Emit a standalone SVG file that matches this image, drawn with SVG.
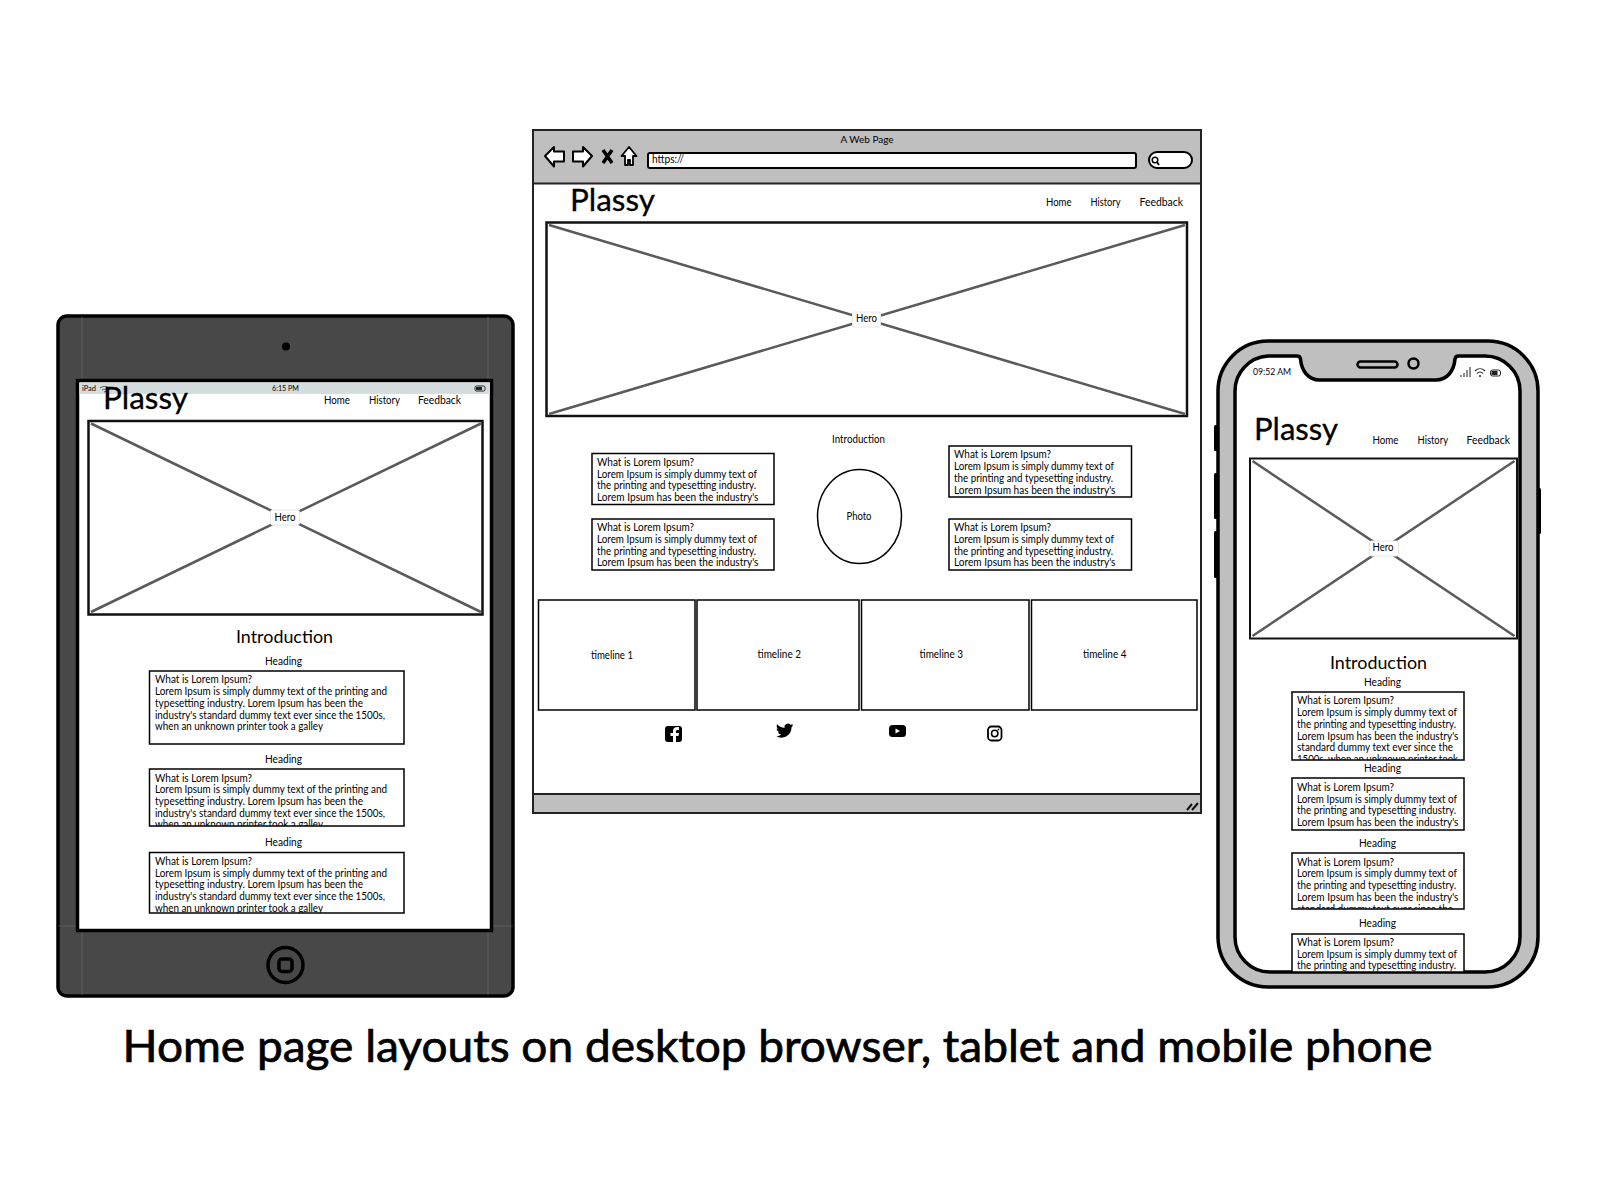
<svg xmlns="http://www.w3.org/2000/svg" width="1600" height="1200" viewBox="0 0 1600 1200">
<style>
text{font-family:"Lato","Open Sans","DejaVu Sans",sans-serif;fill:#000}
.b{fill:#fff;stroke:#000;stroke-width:2}
.h{fill:#fff;stroke:#111;stroke-width:2.5}
.x{stroke:#5a5a5a;stroke-width:2.5;fill:none}
.l{fill:#fff;stroke:#e8e8e8;stroke-width:1}
.t{font-size:11px}
.n{font-size:11.5px}
.p{font-size:30px;stroke:#000;stroke-width:.3}
.i{font-size:18px}
.seam{stroke:#8a8a8a;stroke-width:.6;opacity:.6}
</style>
<defs>
<clipPath id="c1"><rect x="149" y="769" width="255" height="57"/></clipPath>
<clipPath id="c2"><rect x="149" y="852" width="255" height="61"/></clipPath>
<clipPath id="c3"><rect x="1292" y="692" width="172" height="68"/></clipPath>
<clipPath id="c4"><rect x="1292" y="853" width="172" height="56"/></clipPath>
<clipPath id="c5"><rect x="1292" y="934" width="172" height="38"/></clipPath>
</defs>
<rect width="1600" height="1200" fill="#fff"/>

<g id="desktop-browser">
<rect x="533" y="130" width="668" height="683" fill="#fff" stroke="#222" stroke-width="2"/>
<rect x="533" y="130" width="668" height="53.500" fill="#bfbfbf" stroke="#222" stroke-width="2"/>
<rect x="533" y="794" width="668" height="19" fill="#bfbfbf" stroke="#222" stroke-width="2"/>
<path d="M1187 810l5-6M1192 810l6-7" stroke="#111" stroke-width="2" fill="none"/>
<text x="867" y="143" class="t" font-size="10" text-anchor="middle" textLength="53" lengthAdjust="spacingAndGlyphs" style="font-size:10px">A Web Page</text>
<path d="M545 156l9-9v4.500h10v10h-10v5z" fill="#fff" stroke="#000" stroke-width="2" stroke-linejoin="round"/>
<path d="M592 156l-9-9v4.500h-10v10h10v5z" fill="#fff" stroke="#000" stroke-width="2" stroke-linejoin="round"/>
<path d="M603 150l9 13M612 150l-9 13" stroke="#000" stroke-width="3.500" fill="none"/>
<path d="M629 147l-7.500 9h3.500v9h3v-5h2v5h3v-9h3.500z" fill="#fff" stroke="#000" stroke-width="1.800" stroke-linejoin="round"/>
<rect x="648" y="153" width="488" height="15" rx="2" fill="#fff" stroke="#000" stroke-width="2"/>
<text x="652" y="163" class="t" textLength="32" lengthAdjust="spacingAndGlyphs" style="font-size:10.500px">https://</text>
<rect x="1149" y="152" width="43" height="16" rx="8" fill="#fff" stroke="#000" stroke-width="2"/>
<circle cx="1155" cy="160" r="2.800" fill="none" stroke="#000" stroke-width="1.500"/><path d="M1157 162l2 3" stroke="#000" stroke-width="1.800"/>
</g>

<g id="desktop-header">
<text x="570" y="211" class="p" textLength="85" lengthAdjust="spacingAndGlyphs">Plassy</text>
<text x="1046" y="206" class="n" textLength="25.500" lengthAdjust="spacingAndGlyphs">Home</text>
<text x="1090.500" y="206" class="n" textLength="30" lengthAdjust="spacingAndGlyphs">History</text>
<text x="1139.500" y="206" class="n" textLength="43.500" lengthAdjust="spacingAndGlyphs">Feedback</text>
</g>

<g id="desktop-hero">
<rect x="546.500" y="222.500" width="640.500" height="193.500" class="h"/>
<path d="M549 225L1185 414M1185 225L549 414" class="x"/>
<rect x="852.500" y="312" width="28" height="15" rx="2" class="l"/>
<text x="866.500" y="322" class="t" text-anchor="middle" textLength="21" lengthAdjust="spacingAndGlyphs">Hero</text>
</g>

<g id="desktop-intro">
<text x="832" y="443" class="t" textLength="53" lengthAdjust="spacingAndGlyphs" style="font-size:10.500px">Introduction</text>
<ellipse cx="859.500" cy="516.500" rx="42" ry="47" fill="#fff" stroke="#000" stroke-width="1.500"/>
<text x="859" y="519.500" class="t" text-anchor="middle" textLength="25" lengthAdjust="spacingAndGlyphs" style="font-size:10.500px">Photo</text>
</g>

<g id="desktop-card-1">
<rect x="592" y="453.500" width="182" height="51" class="b" style="stroke-width:1.500"/>
<text x="597" y="466" class="t" textLength="97" lengthAdjust="spacingAndGlyphs">What is Lorem Ipsum?</text>
<text x="597" y="478" class="t" textLength="160" lengthAdjust="spacingAndGlyphs">Lorem Ipsum is simply dummy text of</text>
<text x="597" y="489" class="t" textLength="159" lengthAdjust="spacingAndGlyphs">the printing and typesetting industry.</text>
<text x="597" y="501" class="t" textLength="161.500" lengthAdjust="spacingAndGlyphs">Lorem Ipsum has been the industry's</text>
</g>
<g id="desktop-card-2">
<rect x="592" y="519" width="182" height="51" class="b" style="stroke-width:1.500"/>
<text x="597" y="531" class="t" textLength="97" lengthAdjust="spacingAndGlyphs">What is Lorem Ipsum?</text>
<text x="597" y="543" class="t" textLength="160" lengthAdjust="spacingAndGlyphs">Lorem Ipsum is simply dummy text of</text>
<text x="597" y="555" class="t" textLength="159" lengthAdjust="spacingAndGlyphs">the printing and typesetting industry.</text>
<text x="597" y="566" class="t" textLength="161.500" lengthAdjust="spacingAndGlyphs">Lorem Ipsum has been the industry's</text>
</g>
<g id="desktop-card-3">
<rect x="949" y="446" width="182.500" height="51" class="b" style="stroke-width:1.500"/>
<text x="954" y="458" class="t" textLength="97" lengthAdjust="spacingAndGlyphs">What is Lorem Ipsum?</text>
<text x="954" y="470" class="t" textLength="160" lengthAdjust="spacingAndGlyphs">Lorem Ipsum is simply dummy text of</text>
<text x="954" y="482" class="t" textLength="159" lengthAdjust="spacingAndGlyphs">the printing and typesetting industry.</text>
<text x="954" y="494" class="t" textLength="161.500" lengthAdjust="spacingAndGlyphs">Lorem Ipsum has been the industry's</text>
</g>
<g id="desktop-card-4">
<rect x="949" y="519" width="182.500" height="51" class="b" style="stroke-width:1.500"/>
<text x="954" y="531" class="t" textLength="97" lengthAdjust="spacingAndGlyphs">What is Lorem Ipsum?</text>
<text x="954" y="543" class="t" textLength="160" lengthAdjust="spacingAndGlyphs">Lorem Ipsum is simply dummy text of</text>
<text x="954" y="555" class="t" textLength="159" lengthAdjust="spacingAndGlyphs">the printing and typesetting industry.</text>
<text x="954" y="566" class="t" textLength="161.500" lengthAdjust="spacingAndGlyphs">Lorem Ipsum has been the industry's</text>
</g>

<g id="timeline-1"><rect x="538.500" y="600" width="156.500" height="110" fill="#fff" stroke="#000" stroke-width="1.500"/><text x="591" y="659" class="t" textLength="42" lengthAdjust="spacingAndGlyphs">timeline 1</text></g>
<g id="timeline-2"><rect x="697" y="600" width="162" height="110" fill="#fff" stroke="#000" stroke-width="1.500"/><text x="757.500" y="658" class="t" textLength="43.500" lengthAdjust="spacingAndGlyphs">timeline 2</text></g>
<g id="timeline-3"><rect x="861.500" y="600" width="167.500" height="110" fill="#fff" stroke="#000" stroke-width="1.500"/><text x="919.500" y="658" class="t" textLength="43.500" lengthAdjust="spacingAndGlyphs">timeline 3</text></g>
<g id="timeline-4"><rect x="1031.500" y="600" width="165.500" height="110" fill="#fff" stroke="#000" stroke-width="1.500"/><text x="1083" y="658" class="t" textLength="43.500" lengthAdjust="spacingAndGlyphs">timeline 4</text></g>

<g id="social-icons" transform="translate(0 -4)">
<path fill-rule="evenodd" d="M668 730h11a3 3 0 0 1 3 3v10a3 3 0 0 1-3 3h-3v-6h2.500l.5-3h-3v-1.500c0-1 .5-1.500 1.500-1.500h1.500v-2.800c-3.500-.5-6 .5-6 3.800v2h-2.500v3h2.500v6h-5a3 3 0 0 1-3-3v-10a3 3 0 0 1 3-3z"/>
<path transform="translate(776 726) scale(.72)" d="M23.950 4.570a10 10 0 0 1-2.820.770 4.960 4.960 0 0 0 2.160-2.720c-.950.550-2 .950-3.120 1.180a4.920 4.920 0 0 0-8.380 4.480C7.690 8.090 4.070 6.130 1.640 3.160a4.820 4.820 0 0 0-.670 2.480c0 1.710.870 3.220 2.190 4.100a4.900 4.900 0 0 1-2.230-.620v.060a4.920 4.920 0 0 0 3.950 4.830 4.900 4.900 0 0 1-2.210.080 4.940 4.940 0 0 0 4.600 3.420A9.870 9.870 0 0 1 0 19.540a13.940 13.940 0 0 0 7.550 2.210c9.050 0 14-7.500 14-13.980 0-.210 0-.420-.010-.630a10 10 0 0 0 2.460-2.550z"/>
<rect x="889" y="729" width="17" height="12" rx="3.500"/><path d="M895.500 732.500v5l4.500-2.500z" fill="#fff"/>
<rect x="988" y="730.500" width="13.500" height="14" rx="3.500" fill="none" stroke="#000" stroke-width="1.800"/><circle cx="994.700" cy="737.500" r="3.200" fill="none" stroke="#000" stroke-width="1.500"/><circle cx="998.500" cy="733.500" r=".9"/>
</g>

<g id="tablet">
<rect x="58" y="316" width="455" height="680" rx="9" fill="#484848" stroke="#000" stroke-width="3.500"/>
<path d="M82 316V379M488 316V379M82 926V995M488 926V995M58 926H76M493 926H513" class="seam"/>
<circle cx="286" cy="346.500" r="4"/>
<rect x="77.500" y="380.500" width="414" height="550" fill="#fff" stroke="#000" stroke-width="3.500"/>
<rect x="79.500" y="383" width="410.500" height="11" fill="#d5dcdd"/>
<text x="82" y="391" style="font-size:7.500px" textLength="14" lengthAdjust="spacingAndGlyphs" fill="#333">iPad</text>
<path d="M100 388c3-2 6-2 8-.5M102 390c2-1 4-1 5 0M104 392l3-1" stroke="#333" stroke-width=".8" fill="none"/>
<text x="285.500" y="391" style="font-size:7.500px" text-anchor="middle" textLength="27" lengthAdjust="spacingAndGlyphs">6:15 PM</text>
<rect x="475" y="386" width="10" height="5" rx="1.500" fill="none" stroke="#222" stroke-width="1"/><rect x="476" y="387" width="6" height="3" fill="#222"/>
<text x="103" y="409" class="p" textLength="85" lengthAdjust="spacingAndGlyphs">Plassy</text>
<text x="324" y="404" class="n" textLength="26" lengthAdjust="spacingAndGlyphs">Home</text>
<text x="369" y="404" class="n" textLength="31" lengthAdjust="spacingAndGlyphs">History</text>
<text x="418" y="404" class="n" textLength="43" lengthAdjust="spacingAndGlyphs">Feedback</text>
<rect x="88.500" y="421" width="394" height="193.500" class="h"/>
<path d="M91 423.500L481 612M481 423.500L91 612" class="x"/>
<rect x="270.500" y="510" width="29" height="15" rx="2" class="l"/>
<text x="285" y="520.500" class="t" text-anchor="middle" textLength="21" lengthAdjust="spacingAndGlyphs">Hero</text>
<text x="236" y="642.500" class="i" textLength="97" lengthAdjust="spacingAndGlyphs">Introduction</text>
<text x="265" y="665" class="t" textLength="37" lengthAdjust="spacingAndGlyphs">Heading</text>
<rect x="149.500" y="671" width="254.500" height="73" class="b" style="stroke-width:1.500"/>
<text x="155" y="683" class="t" textLength="97" lengthAdjust="spacingAndGlyphs">What is Lorem Ipsum?</text>
<text x="155" y="695" class="t" textLength="232" lengthAdjust="spacingAndGlyphs">Lorem Ipsum is simply dummy text of the printing and</text>
<text x="155" y="707" class="t" textLength="208" lengthAdjust="spacingAndGlyphs">typesetting industry. Lorem Ipsum has been the</text>
<text x="155" y="719" class="t" textLength="230" lengthAdjust="spacingAndGlyphs">industry's standard dummy text ever since the 1500s,</text>
<text x="155" y="730" class="t" textLength="168" lengthAdjust="spacingAndGlyphs">when an unknown printer took a galley</text>
<text x="265" y="763" class="t" textLength="37" lengthAdjust="spacingAndGlyphs">Heading</text>
<rect x="149.500" y="769" width="254.500" height="57" class="b" style="stroke-width:1.500"/>
<g clip-path="url(#c1)">
<text x="155" y="782" class="t" textLength="97" lengthAdjust="spacingAndGlyphs">What is Lorem Ipsum?</text>
<text x="155" y="793" class="t" textLength="232" lengthAdjust="spacingAndGlyphs">Lorem Ipsum is simply dummy text of the printing and</text>
<text x="155" y="805" class="t" textLength="208" lengthAdjust="spacingAndGlyphs">typesetting industry. Lorem Ipsum has been the</text>
<text x="155" y="817" class="t" textLength="230" lengthAdjust="spacingAndGlyphs">industry's standard dummy text ever since the 1500s,</text>
<text x="155" y="828" class="t" textLength="168" lengthAdjust="spacingAndGlyphs">when an unknown printer took a galley</text>
</g>
<text x="265" y="846" class="t" textLength="37" lengthAdjust="spacingAndGlyphs">Heading</text>
<rect x="149.500" y="852.500" width="254.500" height="60.500" class="b" style="stroke-width:1.500"/>
<g clip-path="url(#c2)">
<text x="155" y="865" class="t" textLength="97" lengthAdjust="spacingAndGlyphs">What is Lorem Ipsum?</text>
<text x="155" y="877" class="t" textLength="232" lengthAdjust="spacingAndGlyphs">Lorem Ipsum is simply dummy text of the printing and</text>
<text x="155" y="888" class="t" textLength="208" lengthAdjust="spacingAndGlyphs">typesetting industry. Lorem Ipsum has been the</text>
<text x="155" y="900" class="t" textLength="230" lengthAdjust="spacingAndGlyphs">industry's standard dummy text ever since the 1500s,</text>
<text x="155" y="912" class="t" textLength="168" lengthAdjust="spacingAndGlyphs">when an unknown printer took a galley</text>
</g>
<circle cx="285.500" cy="965" r="17.500" fill="none" stroke="#000" stroke-width="3.500"/>
<rect x="279" y="959" width="13" height="12.500" rx="3" fill="none" stroke="#000" stroke-width="3.500"/>
</g>

<g id="phone">
<rect x="1214" y="425" width="5" height="26" rx="1.500"/><rect x="1214" y="473" width="5" height="46" rx="1.500"/><rect x="1214" y="531" width="5" height="47" rx="1.500"/><rect x="1536" y="488" width="5" height="46" rx="1.500"/>
<rect x="1218" y="341" width="320" height="646" rx="50" fill="#bfbfbf" stroke="#000" stroke-width="3.500"/>
<path d="M1268 356H1297q3 0 3.500 3c1 12 8 21 19 21H1436c11 0 18-9 19-21q.5-3 3.500-3H1485a35 35 0 0 1 35 35V937a35 35 0 0 1-35 35H1270a35 35 0 0 1-35-35V391a35 35 0 0 1 33-35z" fill="#fff" stroke="#000" stroke-width="3.500"/>
<rect x="1357.500" y="361.500" width="40" height="6" rx="3" fill="none" stroke="#000" stroke-width="2.500"/>
<circle cx="1413.500" cy="363.500" r="5" fill="none" stroke="#000" stroke-width="2.500"/>
<text x="1253" y="375" style="font-size:9.500px" textLength="38" lengthAdjust="spacingAndGlyphs">09:52 AM</text>
<path d="M1461 377v-2M1464 377v-4M1467 377v-7M1470 377v-10" stroke="#444" stroke-width="1.200"/>
<path d="M1475 371c3-3 7-3 10 0M1477 373.500c2-2 4-2 6 0" stroke="#222" stroke-width="1.100" fill="none"/><circle cx="1480" cy="376" r="1" fill="#222"/>
<rect x="1490.500" y="370" width="10" height="6" rx="2" fill="none" stroke="#222" stroke-width="1"/><rect x="1491.500" y="371" width="6" height="4" fill="#222"/>
<text x="1254" y="440" class="p" textLength="84" lengthAdjust="spacingAndGlyphs">Plassy</text>
<text x="1372.500" y="444" class="n" textLength="26" lengthAdjust="spacingAndGlyphs">Home</text>
<text x="1417.500" y="444" class="n" textLength="30.500" lengthAdjust="spacingAndGlyphs">History</text>
<text x="1466.500" y="444" class="n" textLength="43.500" lengthAdjust="spacingAndGlyphs">Feedback</text>
<rect x="1250" y="458.500" width="267" height="180" class="h" style="stroke-width:2"/>
<path d="M1252.500 461L1514.500 636M1514.500 461L1252.500 636" class="x"/>
<rect x="1369.500" y="541" width="29" height="15" rx="2" class="l"/>
<text x="1383" y="551" class="t" text-anchor="middle" textLength="21" lengthAdjust="spacingAndGlyphs">Hero</text>
<text x="1330" y="669" class="i" textLength="97" lengthAdjust="spacingAndGlyphs">Introduction</text>
<text x="1364" y="686" class="t" textLength="37" lengthAdjust="spacingAndGlyphs">Heading</text>
<rect x="1292" y="692" width="172" height="68" class="b" style="stroke-width:1.500"/>
<g clip-path="url(#c3)">
<text x="1297" y="704" class="t" textLength="97" lengthAdjust="spacingAndGlyphs">What is Lorem Ipsum?</text>
<text x="1297" y="716" class="t" textLength="160" lengthAdjust="spacingAndGlyphs">Lorem Ipsum is simply dummy text of</text>
<text x="1297" y="728" class="t" textLength="159" lengthAdjust="spacingAndGlyphs">the printing and typesetting industry.</text>
<text x="1297" y="740" class="t" textLength="161.500" lengthAdjust="spacingAndGlyphs">Lorem Ipsum has been the industry's</text>
<text x="1297" y="751" class="t" textLength="156" lengthAdjust="spacingAndGlyphs">standard dummy text ever since the</text>
<text x="1297" y="763" class="t" textLength="161" lengthAdjust="spacingAndGlyphs">1500s, when an unknown printer took</text>
</g>
<text x="1364" y="772" class="t" textLength="37" lengthAdjust="spacingAndGlyphs">Heading</text>
<rect x="1292" y="778" width="172" height="52" class="b" style="stroke-width:1.500"/>
<text x="1297" y="791" class="t" textLength="97" lengthAdjust="spacingAndGlyphs">What is Lorem Ipsum?</text>
<text x="1297" y="803" class="t" textLength="160" lengthAdjust="spacingAndGlyphs">Lorem Ipsum is simply dummy text of</text>
<text x="1297" y="814" class="t" textLength="159" lengthAdjust="spacingAndGlyphs">the printing and typesetting industry.</text>
<text x="1297" y="826" class="t" textLength="161.500" lengthAdjust="spacingAndGlyphs">Lorem Ipsum has been the industry's</text>
<text x="1359" y="847" class="t" textLength="37" lengthAdjust="spacingAndGlyphs">Heading</text>
<rect x="1292" y="853" width="172" height="56" class="b" style="stroke-width:1.500"/>
<g clip-path="url(#c4)">
<text x="1297" y="866" class="t" textLength="97" lengthAdjust="spacingAndGlyphs">What is Lorem Ipsum?</text>
<text x="1297" y="877" class="t" textLength="160" lengthAdjust="spacingAndGlyphs">Lorem Ipsum is simply dummy text of</text>
<text x="1297" y="889" class="t" textLength="159" lengthAdjust="spacingAndGlyphs">the printing and typesetting industry.</text>
<text x="1297" y="901" class="t" textLength="161.500" lengthAdjust="spacingAndGlyphs">Lorem Ipsum has been the industry's</text>
<text x="1297" y="913" class="t" textLength="156" lengthAdjust="spacingAndGlyphs">standard dummy text ever since the</text>
</g>
<text x="1359" y="927" class="t" textLength="37" lengthAdjust="spacingAndGlyphs">Heading</text>
<rect x="1292" y="934" width="172" height="38" class="b" style="stroke-width:1.500"/>
<g clip-path="url(#c5)">
<text x="1297" y="946" class="t" textLength="97" lengthAdjust="spacingAndGlyphs">What is Lorem Ipsum?</text>
<text x="1297" y="958" class="t" textLength="160" lengthAdjust="spacingAndGlyphs">Lorem Ipsum is simply dummy text of</text>
<text x="1297" y="969" class="t" textLength="159" lengthAdjust="spacingAndGlyphs">the printing and typesetting industry.</text>
</g>
</g>

<g id="caption">
<text x="122.500" y="1062" style="font-size:44px;stroke:#000;stroke-width:.7" textLength="1310" lengthAdjust="spacingAndGlyphs">Home page layouts on desktop browser, tablet and mobile phone</text>
</g>
</svg>
